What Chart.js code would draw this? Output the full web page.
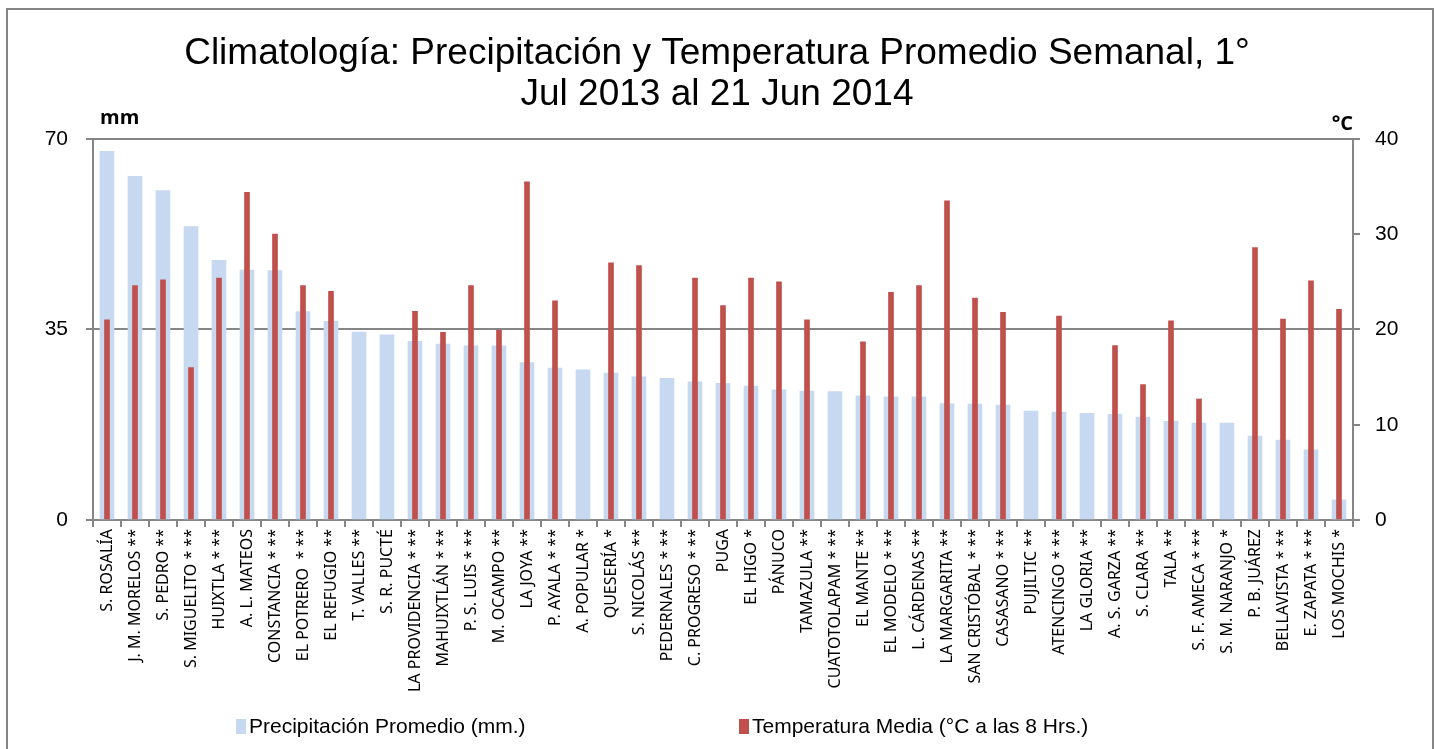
<!DOCTYPE html>
<html>
<head>
<meta charset="utf-8">
<title>Climatología</title>
<script src="https://cdn.jsdelivr.net/npm/chart.js@4.4.1/dist/chart.umd.min.js"></script>
<style>
    html, body { margin: 0; padding: 0; background: #fff; overflow: hidden; }
    #wrap { position: relative; width: 1434px; height: 749px; }
    #frame { position: absolute; left: 6px; top: 8px; width: 1428px; height: 780px; border: 2px solid #868686; box-sizing: border-box; pointer-events: none; }
    #chart { position: absolute; left: 0; top: 0; }
    .legItem { position: absolute; top: 714px; font: 21px "Liberation Sans", Arial, sans-serif; color: #000; white-space: nowrap; }
    .legItem span { display: inline-block; width: 10px; height: 15px; margin-right: 3px; vertical-align: -1px; }
</style>
</head>
<body>
<div id="wrap">
    <canvas id="chart" width="1434" height="749"></canvas>
    <div id="frame"></div>
    <div class="legItem" style="left:236px"><span style="background:#c6d9f1"></span>Precipitación Promedio (mm.)</div>
    <div class="legItem" style="left:739px"><span style="background:#c0504d"></span>Temperatura Media (°C a las 8 Hrs.)</div>
</div>
<script>
const stations = [
    'S. ROSALÍA', 'J. M. MORELOS **', 'S. PEDRO **', 'S. MIGUELITO * **', 'HUIXTLA * **',
    'A. L. MATEOS', 'CONSTANCIA * **', 'EL POTRERO  * **', 'EL REFUGIO **', 'T. VALLES **',
    'S. R. PUCTÉ', 'LA PROVIDENCIA * **', 'MAHUIXTLÁN * **', 'P. S. LUIS * **', 'M. OCAMPO **',
    'LA JOYA **', 'P. AYALA * **', 'A. POPULAR *', 'QUESERÍA *', 'S. NICOLÁS **',
    'PEDERNALES * **', 'C. PROGRESO * **', 'PUGA', 'EL HIGO *', 'PÁNUCO',
    'TAMAZULA **', 'CUATOTOLAPAM * **', 'EL MANTE **', 'EL MODELO * **', 'L. CÁRDENAS **',
    'LA MARGARITA **', 'SAN CRISTÓBAL * **', 'CASASANO * **', 'PUJILTIC **', 'ATENCINGO * **',
    'LA GLORIA **', 'A. S. GARZA **', 'S. CLARA **', 'TALA **', 'S. F. AMECA * **',
    'S. M. NARANJO *', 'P. B. JUÁREZ', 'BELLAVISTA * **', 'E. ZAPATA * **', 'LOS MOCHIS *'
];

// precipitacion promedio (mm)
const precip = [
    67.7, 63.1, 60.5, 53.9, 47.7, 45.9, 45.8, 38.3, 36.5, 34.5,
    34.0, 32.8, 32.3, 32.0, 32.0, 28.9, 27.9, 27.6, 27.0, 26.3,
    26.0, 25.4, 25.1, 24.6, 23.9, 23.7, 23.6, 22.8, 22.6, 22.6,
    21.4, 21.3, 21.1, 20.0, 19.8, 19.6, 19.4, 18.9, 18.1, 17.8,
    17.8, 15.4, 14.7, 12.9, 3.7
];

// temperatura media a las 8 hrs (°C), null = sin dato
const temp = [
    21.0, 24.6, 25.2, 16.0, 25.4, 34.4, 30.0, 24.6, 24.0, null,
    null, 21.9, 19.7, 24.6, 19.9, 35.5, 23.0, null, 27.0, 26.7,
    null, 25.4, 22.5, 25.4, 25.0, 21.0, null, 18.7, 23.9, 24.6,
    33.5, 23.3, 21.8, null, 21.4, null, 18.3, 14.2, 20.9, 12.7,
    null, 28.6, 21.1, 25.1, 22.1
];

const mmTicks = [0, 35, 70];
const cTicks = [0, 10, 20, 30, 40];

const gridGray = '#868686';

// "mm" and "°C" labels sitting above the two value axes
const unitLabels = {
    id: 'unitLabels',
    afterDraw(chart) {
        const { ctx, chartArea } = chart;
        ctx.save();
        ctx.fillStyle = '#000';
        ctx.font = 'bold 20px "Open Sans", sans-serif';
        ctx.textBaseline = 'alphabetic';
        ctx.textAlign = 'left';
        ctx.fillText('mm', chartArea.left + 7, chartArea.top - 15);
        ctx.textAlign = 'right';
        ctx.fillText('°C', chartArea.right, chartArea.top - 9);
        ctx.restore();
    }
};

const data = {
    labels: stations,
    datasets: [{
        label: 'Precipitación Promedio (mm.)',
        data: precip,
        yAxisID: 'y',
        backgroundColor: '#c6d9f1',
        barThickness: 14,
        grouped: false,
        order: 1
    }, {
        label: 'Temperatura Media (°C a las 8 Hrs.)',
        data: temp,
        yAxisID: 'y1',
        backgroundColor: '#c0504d',
        barThickness: 5,
        grouped: false,
        order: 0
    }]
};

const config = {
    type: 'bar',
    data: data,
    options: {
        responsive: false,
        animation: false,
        layout: { padding: 0 },
        plugins: {
            legend: { display: false },
            tooltip: { enabled: false },
            title: {
                display: true,
                text: ['Climatología: Precipitación y Temperatura Promedio Semanal, 1°', 'Jul 2013 al 21 Jun 2014'],
                color: '#000',
                font: { family: '"Liberation Sans", Arial, sans-serif', size: 37, weight: 'normal', lineHeight: 1.12 },
                padding: { top: 33, bottom: 23 }
            }
        },
        scales: {
            x: {
                afterFit: (scale) => { scale.height = 229; },
                grid: { drawOnChartArea: false, color: gridGray, lineWidth: 2, tickLength: 7, offset: true },
                border: { color: gridGray, width: 2 },
                ticks: {
                    autoSkip: false,
                    maxRotation: 90,
                    minRotation: 90,
                    padding: 2,
                    color: '#000',
                    font: { family: '"Noto Sans", sans-serif', size: 16 }
                }
            },
            y: {
                position: 'left',
                min: 0,
                max: 70,
                afterFit: (scale) => { scale.width = 93; },
                afterBuildTicks: (scale) => { scale.ticks = mmTicks.map(v => ({ value: v })); },
                grid: { color: gridGray, lineWidth: 2, tickLength: 7 },
                border: { color: gridGray, width: 2 },
                ticks: {
                    padding: 18,
                    color: '#000',
                    font: { family: '"Liberation Sans", Arial, sans-serif', size: 21 }
                }
            },
            y1: {
                position: 'right',
                min: 0,
                max: 40,
                afterFit: (scale) => { scale.width = 81; },
                afterBuildTicks: (scale) => { scale.ticks = cTicks.map(v => ({ value: v })); },
                grid: { drawOnChartArea: false, color: gridGray, lineWidth: 2, tickLength: 7 },
                border: { color: gridGray, width: 2 },
                ticks: {
                    padding: 15,
                    color: '#000',
                    font: { family: '"Liberation Sans", Arial, sans-serif', size: 21 }
                }
            }
        }
    },
    plugins: [unitLabels]
};

window.onload = function () {
    const ctx = document.getElementById('chart').getContext('2d');
    new Chart(ctx, config);
};
</script>
</body>
</html>
